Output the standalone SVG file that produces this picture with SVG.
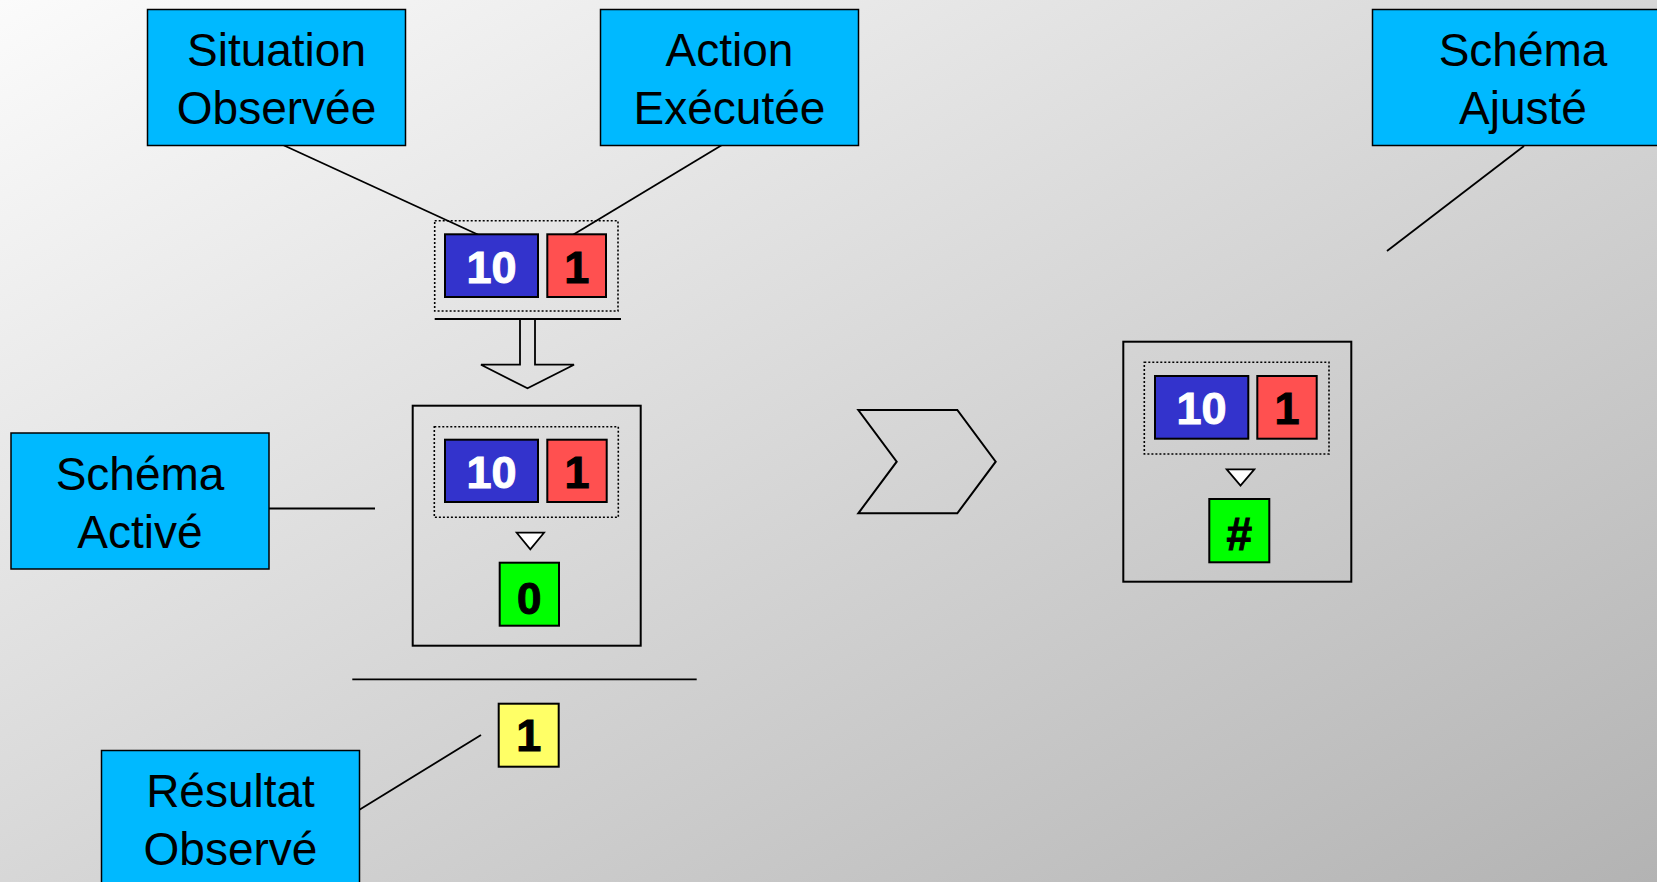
<svg xmlns="http://www.w3.org/2000/svg" width="1657" height="882" viewBox="0 0 1657 882">
<defs>
<linearGradient id="bg" x1="0" y1="0" x2="1" y2="1">
<stop offset="0" stop-color="#fbfbfb"/>
<stop offset="1" stop-color="#b3b3b3"/>
</linearGradient>
<style>
.lbl{fill:#00B9FF;stroke:#000;stroke-width:1.5}
.lt{font-family:"Liberation Sans",Arial,sans-serif;font-size:46px;text-anchor:middle;fill:#000}
.num{font-family:"Liberation Sans",Arial,sans-serif;font-weight:bold;font-size:45px;text-anchor:middle;stroke-width:1}
.w{fill:#fff;stroke:#fff}
.k{fill:#000;stroke:#000}
.blue{fill:#3333CC;stroke:#000;stroke-width:2}
.red{fill:#FF5050;stroke:#000;stroke-width:2}
.green{fill:#00FF00;stroke:#000;stroke-width:2}
.yellow{fill:#FFFF66;stroke:#000;stroke-width:2}
.dot{fill:none;stroke:#000;stroke-width:1.6;stroke-dasharray:2,2}
.frame{fill:none;stroke:#000;stroke-width:2}
.ln{fill:none;stroke:#000;stroke-width:1.8}
.tri{fill:#fff;stroke:#000;stroke-width:1.8}
</style>
</defs>
<rect x="0" y="0" width="1657" height="882" fill="url(#bg)"/>

<g id="connectors">
<line class="ln" x1="283" y1="145" x2="481" y2="236"/>
<line class="ln" x1="722" y1="145" x2="571" y2="236"/>
<line class="ln" x1="1524" y1="146" x2="1387" y2="251"/>
<line class="ln" x1="269" y1="508.5" x2="375" y2="508.5"/>
<line class="ln" x1="359" y1="810" x2="481" y2="735"/>
<line class="ln" x1="434.7" y1="319" x2="621" y2="319"/>
<path class="ln" d="M520,319 V364.7 H481 L527.5,388.3 L574,364.7 H535 V319"/>
<line class="ln" x1="352.3" y1="679.3" x2="696.7" y2="679.3"/>
<path class="frame" d="M858.3,410 H957.3 L995.7,461.7 L957.3,513.3 H858.3 L896.7,461.7 Z"/>
</g>

<g id="situation-observee">
<rect class="lbl" x="147.5" y="9.5" width="258" height="136"/>
<text class="lt" x="276.5" y="66">Situation</text>
<text class="lt" x="276.5" y="123.5">Observée</text>
</g>
<g id="action-executee">
<rect class="lbl" x="600.5" y="9.5" width="258" height="136"/>
<text class="lt" x="729.5" y="66">Action</text>
<text class="lt" x="729.5" y="123.5">Exécutée</text>
</g>
<g id="schema-ajuste">
<rect class="lbl" x="1372.5" y="9.5" width="302" height="136"/>
<text class="lt" x="1523" y="66">Schéma</text>
<text class="lt" x="1523" y="123.5">Ajusté</text>
</g>
<g id="schema-active">
<rect class="lbl" x="11" y="433" width="258" height="136"/>
<text class="lt" x="140" y="490">Schéma</text>
<text class="lt" x="140" y="547.5">Activé</text>
</g>
<g id="resultat-observe">
<rect class="lbl" x="101.5" y="750.5" width="258" height="140"/>
<text class="lt" x="230.5" y="807">Résultat</text>
<text class="lt" x="230.5" y="864.5">Observé</text>
</g>

<g id="observed-input">
<rect class="dot" x="434.7" y="220.7" width="183.3" height="90.3"/>
<rect class="blue" x="445" y="234.3" width="93" height="62.7"/>
<text class="num w" x="491.5" y="282.5">10</text>
<rect class="red" x="547.3" y="234.3" width="58.7" height="62.7"/>
<text class="num k" x="576.7" y="282.5">1</text>
</g>

<g id="active-schema">
<rect class="frame" x="412.7" y="405.7" width="228" height="240"/>
<rect class="dot" x="434.3" y="426.7" width="184" height="90.6"/>
<rect class="blue" x="445" y="439.7" width="93" height="62.3"/>
<text class="num w" x="491.5" y="487.5">10</text>
<rect class="red" x="547.3" y="439.7" width="59.4" height="62.3"/>
<text class="num k" x="577" y="487.5">1</text>
<path class="tri" d="M516.7,532.7 H544 L530.3,549.3 Z"/>
<rect class="green" x="499.7" y="562.7" width="59.3" height="63"/>
<text class="num k" x="529.3" y="613.5" style="font-size:44px">0</text>
</g>

<g id="observed-result">
<rect class="yellow" x="498.7" y="703.7" width="60" height="63"/>
<text class="num k" x="528.7" y="751">1</text>
</g>

<g id="adjusted-schema">
<rect class="frame" x="1123.3" y="341.7" width="228" height="240"/>
<rect class="dot" x="1144.3" y="362.3" width="184.7" height="91.7"/>
<rect class="blue" x="1155" y="376" width="93.3" height="62.7"/>
<text class="num w" x="1201.6" y="424">10</text>
<rect class="red" x="1257.3" y="376" width="59.4" height="62.7"/>
<text class="num k" x="1287" y="424">1</text>
<path class="tri" d="M1226.7,469.3 H1254.3 L1240.5,485.7 Z"/>
<rect class="green" x="1209.3" y="499" width="60" height="63.3"/>
<text class="num k" x="1239.3" y="550" style="font-size:46px">#</text>
</g>
</svg>
